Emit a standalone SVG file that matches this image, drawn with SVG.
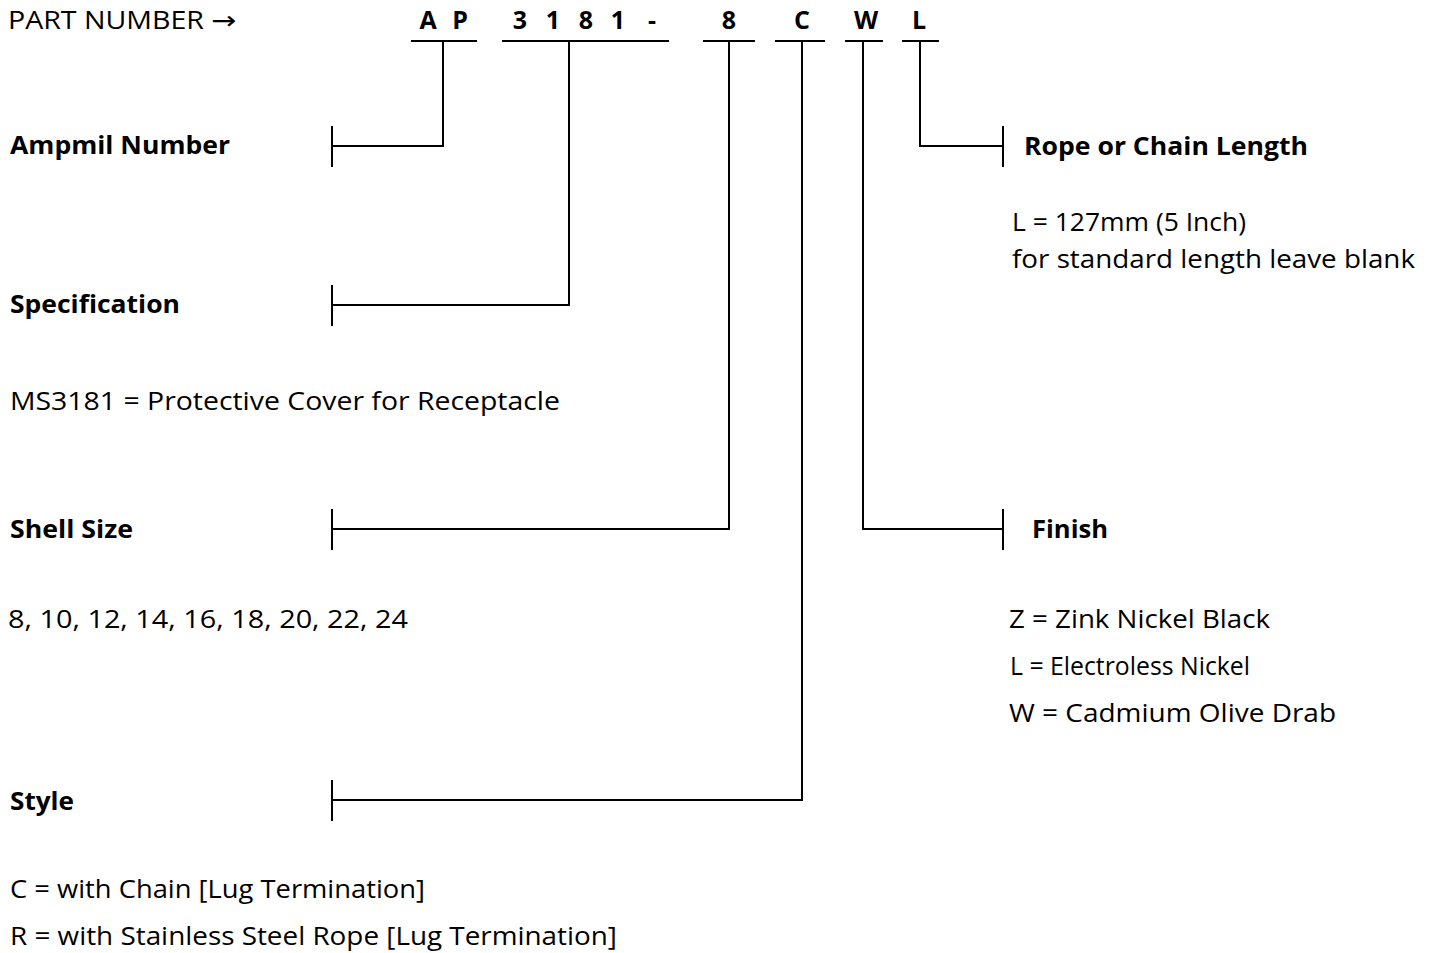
<svg xmlns="http://www.w3.org/2000/svg" width="1435" height="953" viewBox="0 0 1435 953">
<style>
text{font-family:"Open Sans","Liberation Sans",sans-serif;fill:#000;font-size:25px}
.b{font-weight:bold}
.h{font-weight:bold;text-anchor:middle;font-size:25px}
.ln{stroke:#000;stroke-width:2;fill:none}
</style>
<rect width="1435" height="953" fill="#fff"/>
<g id="header">
<text x="8" y="29" textLength="196" lengthAdjust="spacingAndGlyphs">PART NUMBER</text>
<text x="211" y="29" style="font-family:'DejaVu Sans',sans-serif" textLength="25" lengthAdjust="spacingAndGlyphs">→</text>
<text class="h" x="428" y="29">A</text>
<text class="h" x="460" y="29">P</text>
<text class="h" x="520" y="29">3</text>
<text class="h" x="553" y="29">1</text>
<text class="h" x="586" y="29">8</text>
<text class="h" x="618" y="29">1</text>
<text class="h" x="652" y="29">-</text>
<text class="h" x="729" y="29">8</text>
<text class="h" x="802" y="29">C</text>
<text class="h" x="866" y="29">W</text>
<text class="h" x="919" y="29">L</text>
</g>
<g id="connectors" class="ln">
<path d="M411 41H477M502 41H669M703 41H755M775 41H825M845 41H883M902 41H939"/>
<path d="M443 41V146H332M332 126V167"/>
<path d="M569 41V305H332M332 285V326"/>
<path d="M729 41V529H332M332 509V550"/>
<path d="M802 41V800H332M332 780V821"/>
<path d="M863 41V529H1003M1003 509V550"/>
<path d="M920 41V146H1003M1003 126V167"/>
</g>
<g id="ampmil"><text class="b" x="10" y="154" textLength="220" lengthAdjust="spacingAndGlyphs">Ampmil Number</text></g>
<g id="spec">
<text class="b" x="10" y="313" textLength="170" lengthAdjust="spacingAndGlyphs">Specification</text>
<text x="10" y="410" textLength="550" lengthAdjust="spacingAndGlyphs">MS3181 = Protective Cover for Receptacle</text>
</g>
<g id="shell">
<text class="b" x="10" y="538" textLength="123" lengthAdjust="spacingAndGlyphs">Shell Size</text>
<text x="8" y="628" textLength="400" lengthAdjust="spacingAndGlyphs">8, 10, 12, 14, 16, 18, 20, 22, 24</text>
</g>
<g id="style">
<text class="b" x="10" y="810" textLength="64" lengthAdjust="spacingAndGlyphs">Style</text>
<text x="10" y="898" textLength="415" lengthAdjust="spacingAndGlyphs">C = with Chain [Lug Termination]</text>
<text x="10" y="945" textLength="607" lengthAdjust="spacingAndGlyphs">R = with Stainless Steel Rope [Lug Termination]</text>
</g>
<g id="rope">
<text class="b" x="1024" y="155" textLength="284" lengthAdjust="spacingAndGlyphs">Rope or Chain Length</text>
<text x="1012" y="231" textLength="234" lengthAdjust="spacingAndGlyphs">L = 127mm (5 Inch)</text>
<text x="1012" y="268" textLength="403" lengthAdjust="spacingAndGlyphs">for standard length leave blank</text>
</g>
<g id="finish">
<text class="b" x="1032" y="538" textLength="76" lengthAdjust="spacingAndGlyphs">Finish</text>
<text x="1009" y="628" textLength="261" lengthAdjust="spacingAndGlyphs">Z = Zink Nickel Black</text>
<text x="1010" y="675" textLength="240" lengthAdjust="spacingAndGlyphs">L = Electroless Nickel</text>
<text x="1009" y="722" textLength="327" lengthAdjust="spacingAndGlyphs">W = Cadmium Olive Drab</text>
</g>
</svg>
